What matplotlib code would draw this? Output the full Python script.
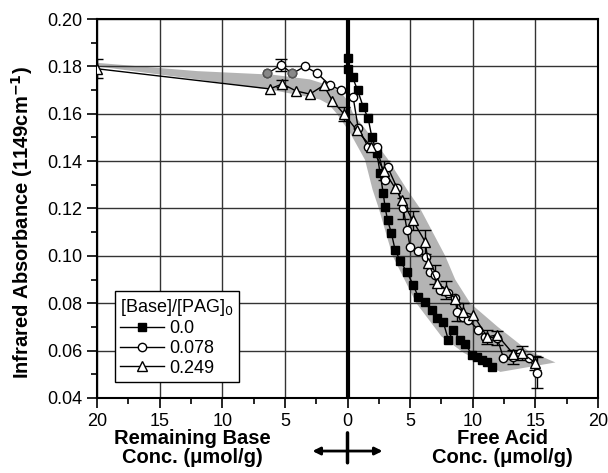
import matplotlib
matplotlib.use("Agg")
import matplotlib.pyplot as plt
import numpy as np
from matplotlib.ticker import MultipleLocator, FormatStrFormatter

plt.rcParams["font.family"] = ["Liberation Sans", "DejaVu Sans"]

# =========================
# Data
# negative x = remaining base, positive x = free acid
# =========================
sq_x = [0.0, 0.0, 0.4, 0.8, 1.25, 1.65, 1.95, 2.35, 2.6, 2.85, 3.0, 3.2, 3.5, 3.8,
        4.2, 4.75, 5.25, 5.65, 6.2, 6.75, 7.15, 7.65, 8.05, 8.45, 9.0, 9.4, 9.95,
        10.35, 10.75, 11.15, 11.55]
sq_y = [0.1835, 0.179, 0.1755, 0.170, 0.163, 0.158, 0.150, 0.1434, 0.135, 0.1265,
        0.1206, 0.115, 0.1097, 0.1025, 0.098, 0.093, 0.0877, 0.0826, 0.0806, 0.077,
        0.0738, 0.072, 0.0645, 0.0687, 0.0645, 0.063, 0.058, 0.0573, 0.056, 0.0552,
        0.053]

ci_x = [-6.4, -5.3, -4.4, -3.4, -2.4, -1.4, -0.5, 0.45, 0.85, 1.65, 2.35, 3.0, 3.2,
        3.95, 4.45, 4.75, 5.0, 5.6, 6.3, 6.6, 7.0, 7.4, 8.05, 8.6, 8.75, 9.25, 9.65,
        10.45, 11.0, 11.95, 12.45, 13.25, 13.8, 14.5, 15.1]
ci_y = [0.177, 0.1806, 0.177, 0.180, 0.177, 0.172, 0.170, 0.167, 0.154, 0.146, 0.146,
        0.132, 0.1376, 0.1287, 0.120, 0.111, 0.1038, 0.102, 0.0995, 0.0932, 0.092,
        0.0856, 0.0843, 0.0822, 0.0763, 0.0742, 0.073, 0.0687, 0.0658, 0.0653,
        0.0569, 0.0573, 0.059, 0.057, 0.0506]
ci_err = [np.nan, 0.0025, np.nan, np.nan, np.nan, np.nan, np.nan, np.nan, np.nan,
          np.nan, np.nan, np.nan, np.nan, np.nan, 0.0045, np.nan, np.nan, np.nan,
          np.nan, np.nan, 0.004, np.nan, np.nan, np.nan, 0.004, np.nan, np.nan,
          np.nan, np.nan, 0.003, np.nan, 0.003, np.nan, np.nan, 0.0065]
ci_gray_x = [-6.4, -4.4]
ci_gray_y = [0.177, 0.177]

tr_x = [-20, -6.2, -5.2, -4.1, -3.0, -1.9, -1.2, -0.3, 0.75, 1.9, 2.9, 3.8, 4.35,
        5.2, 6.2, 6.45, 7.15, 7.9, 8.6, 9.25, 10.05, 11.15, 11.95, 13.25, 13.95, 15.0]
tr_y = [0.179, 0.1705, 0.1726, 0.1696, 0.1683, 0.172, 0.1655, 0.160, 0.153, 0.146,
        0.136, 0.1287, 0.1236, 0.115, 0.106, 0.097, 0.0885, 0.0856, 0.082, 0.0763,
        0.075, 0.0658, 0.0666, 0.0585, 0.059, 0.0548]
tr_err = [0.004, np.nan, 0.0015, np.nan, np.nan, np.nan, np.nan, 0.003, np.nan,
          np.nan, 0.004, np.nan, np.nan, 0.004, 0.005, np.nan, np.nan, 0.004, np.nan,
          0.004, np.nan, 0.003, np.nan, np.nan, 0.003, 0.003]

# gray band (simulation envelope): upper/right edge and lower/left edge
band_hi_x = [-20, -12, -6, -3, -1.5, -0.5, 0, 0.45, 1.65, 3.2, 4.75, 5.8, 7.8, 8.6,
             9.8, 12, 14.4, 16.6]
band_hi_y = [0.1815, 0.178, 0.1765, 0.1745, 0.172, 0.169, 0.1655, 0.160, 0.152,
             0.141, 0.128, 0.12, 0.10, 0.09, 0.08, 0.07, 0.06, 0.055]
band_lo_x = [-20, -12, -6, -3.5, -2.2, -1.5, -0.85, 0.2, 1.4, 2.0, 2.5, 3.6, 5.5,
             7.5, 9.3, 12.2]
band_lo_y = [0.180, 0.1745, 0.170, 0.1675, 0.166, 0.164, 0.160, 0.152, 0.1405,
             0.128, 0.12, 0.10, 0.08, 0.066, 0.059, 0.051]

x_ticks = [-20, -15, -10, -5, 0, 5, 10, 15, 20]
x_ticklabels = ["20", "15", "10", "5", "0", "5", "10", "15", "20"]
labels = ["0.0", "0.078", "0.249"]

# =========================
# Plot
# =========================
fig = plt.figure(figsize=(6.08, 4.73), dpi=100)
ax = fig.add_axes([0.1595, 0.1586, 0.8241, 0.8012])

ax.fill(band_hi_x + band_lo_x[::-1], band_hi_y + band_lo_y[::-1],
        color="#b4b4b4", lw=0, zorder=0.3)

ax.axvline(0, color="black", lw=3, zorder=1.5)

ax.errorbar(ci_x, ci_y, yerr=ci_err, fmt="none", ecolor="black", capsize=4,
            elinewidth=1, zorder=3.5)
ax.errorbar(tr_x, tr_y, yerr=tr_err, fmt="none", ecolor="black", capsize=4,
            elinewidth=1, zorder=3.5)

ax.plot(sq_x, sq_y, "-s", color="black", mfc="black", mec="black", ms=6, lw=1,
        label=labels[0], zorder=3)
ax.plot(ci_x, ci_y, "-o", color="black", mfc="white", mec="black", ms=6, lw=1,
        label=labels[1], zorder=4)
ax.plot(ci_gray_x, ci_gray_y, "o", mfc="#888888", mec="#555555", ms=6, zorder=5)
ax.plot(tr_x, tr_y, "-^", color="black", mfc="white", mec="black", ms=6.5, lw=1,
        label=labels[2], zorder=4)

ax.set_xlim(-20, 20)
ax.set_ylim(0.04, 0.20)
ax.set_xticks(x_ticks)
ax.set_xticklabels(x_ticklabels)
ax.xaxis.set_minor_locator(MultipleLocator(2.5))
ax.yaxis.set_major_locator(MultipleLocator(0.02))
ax.yaxis.set_minor_locator(MultipleLocator(0.01))
ax.yaxis.set_major_formatter(FormatStrFormatter("%.2f"))
ax.tick_params(which="major", direction="out", length=7, width=1.2, labelsize=13,
               colors="black")
ax.tick_params(which="minor", direction="out", length=4, width=1.2)
ax.grid(True, which="major", color="#333333", lw=1)
ax.set_axisbelow(True)
for s in ax.spines.values():
    s.set_linewidth(1.5)

ax.set_ylabel("Infrared Absorbance (1149cm$^{\\mathbf{-1}}$)", fontsize=14.5,
              fontweight="bold")
ax.yaxis.set_label_coords(-0.124, 0.462)

tr = ax.get_xaxis_transform()
ax.text(-12.4, -0.132, "Remaining Base\nConc. (\u03bcmol/g)", transform=tr,
        ha="center", va="center", fontsize=14.5, fontweight="bold",
        linespacing=0.95)
ax.text(12.4, -0.132, "Free Acid\nConc. (\u03bcmol/g)", transform=tr,
        ha="center", va="center", fontsize=14.5, fontweight="bold",
        linespacing=0.95)

# cross-arrow under the zero line
ax.annotate("", xy=(-2.8, -0.14), xytext=(2.8, -0.14), xycoords=tr,
            arrowprops=dict(arrowstyle="<|-|>", color="black", lw=2,
                            mutation_scale=11, shrinkA=0, shrinkB=0),
            annotation_clip=False)
ax.annotate("", xy=(0, -0.092), xytext=(0, -0.171), xycoords=tr,
            arrowprops=dict(arrowstyle="-", color="black", lw=2.5,
                            shrinkA=0, shrinkB=0),
            annotation_clip=False)

leg = ax.legend(title="[Base]/[PAG]$_0$", loc="lower left",
                bbox_to_anchor=(0.036, 0.042), borderaxespad=0, fontsize=13,
                title_fontsize=13, fancybox=False, edgecolor="black",
                framealpha=1, handlelength=2.4, handletextpad=0.3,
                labelspacing=0.15, borderpad=0.3)
leg.get_frame().set_linewidth(1)
leg._legend_box.align = "left"

fig.savefig("out.png", dpi=100)
